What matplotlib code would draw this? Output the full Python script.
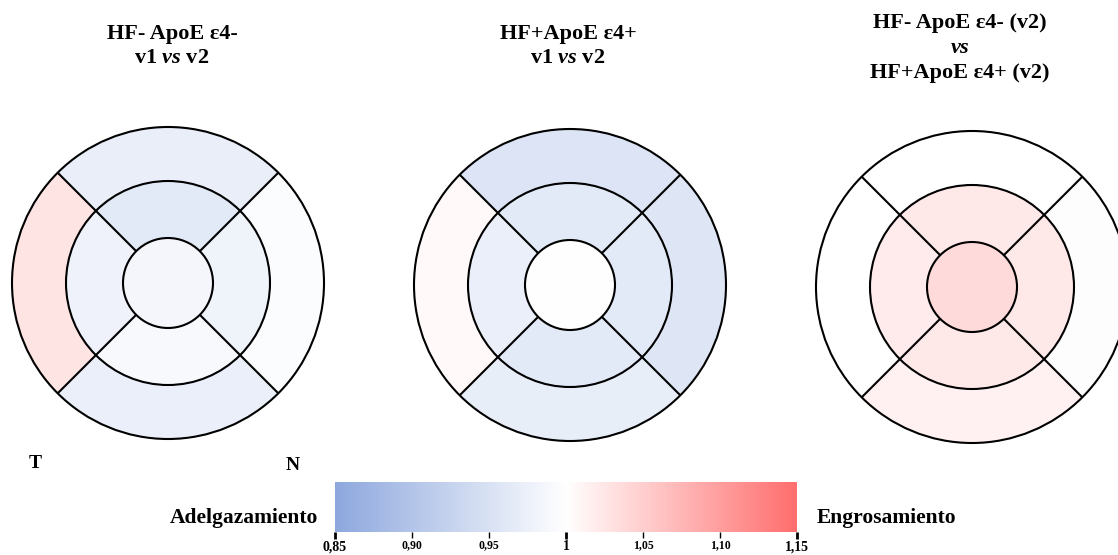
import numpy as np
import matplotlib
matplotlib.use("Agg")
import matplotlib.pyplot as plt
from matplotlib.patches import Wedge, Circle
from matplotlib.colors import LinearSegmentedColormap, Normalize

plt.rcParams['font.family'] = ['Liberation Serif', 'DejaVu Serif']
plt.rcParams['font.weight'] = 'bold'
plt.rcParams['mathtext.fontset'] = 'custom'
plt.rcParams['mathtext.rm'] = 'Liberation Serif:bold'
plt.rcParams['mathtext.it'] = 'Liberation Serif:italic:bold'
plt.rcParams['mathtext.bf'] = 'Liberation Serif:bold'

# Thickness ratio per ETDRS sector: centre, inner ring (T, S, N, I), outer ring (T, S, N, I)
sectors = ["center", "inner_temporal", "inner_superior", "inner_nasal", "inner_inferior",
           "outer_temporal", "outer_superior", "outer_nasal", "outer_inferior"]
hf_neg_v1_v2 = [0.985, 0.978, 0.963, 0.980, 0.990, 1.028, 0.971, 0.995, 0.972]
hf_pos_v1_v2 = [0.998, 0.972, 0.963, 0.962, 0.962, 1.007, 0.954, 0.956, 0.970]
hf_neg_vs_pos_v2 = [1.038, 1.020, 1.024, 1.024, 1.024, 0.999, 0.999, 0.997, 1.015]

panel_titles = [
    ["HF- ApoE ε4-", "v1 $\\it{vs}$ v2"],
    ["HF+ApoE ε4+", "v1 $\\it{vs}$ v2"],
    ["HF- ApoE ε4- (v2)", "$\\it{vs}$", "HF+ApoE ε4+ (v2)"],
]
panels = [hf_neg_v1_v2, hf_pos_v1_v2, hf_neg_vs_pos_v2]

vmin, vmax = 0.85, 1.15
cb_major = [0.85, 1.0, 1.15]
cb_major_labels = ["0,85", "1", "1,15"]
cb_minor = [0.90, 0.95, 1.05, 1.10]
cb_minor_labels = ["0,90", "0,95", "1,05", "1,10"]

cmap = LinearSegmentedColormap.from_list(
    "thin_thick", [(0.0, "#8EA8DE"), (0.5, "#FFFFFF"), (1.0, "#FF6E6E")])
norm = Normalize(vmin=vmin, vmax=vmax)

W, H = 1118, 555
fig = plt.figure(figsize=(W / 100, H / 100), dpi=100)
ax = fig.add_axes([0, 0, 1, 1])
ax.set_xlim(0, W)
ax.set_ylim(0, H)
ax.set_aspect('equal')
ax.axis('off')

centers = [(168, H - 283), (570, H - 285), (972, H - 287)]
r_center, r_inner, r_outer = 45, 102, 156
lw = 1.5

# angular spans for temporal (left), superior, nasal (right), inferior quadrants
quad_angles = [(135, 225), (45, 135), (-45, 45), (225, 315)]

for (cx, cy), vals in zip(centers, panels):
    inner_vals = vals[1:5]
    outer_vals = vals[5:9]
    for (a0, a1), v in zip(quad_angles, outer_vals):
        ax.add_patch(Wedge((cx, cy), r_outer, a0, a1, width=r_outer - r_inner,
                           facecolor=cmap(norm(v)), edgecolor='none'))
    for (a0, a1), v in zip(quad_angles, inner_vals):
        ax.add_patch(Wedge((cx, cy), r_inner, a0, a1, width=r_inner - r_center,
                           facecolor=cmap(norm(v)), edgecolor='none'))
    ax.add_patch(Circle((cx, cy), r_center, facecolor=cmap(norm(vals[0])),
                        edgecolor='black', lw=lw))
    for r in (r_inner, r_outer):
        ax.add_patch(Circle((cx, cy), r, facecolor='none', edgecolor='black', lw=lw))
    for ang in (45, 135, 225, 315):
        t = np.deg2rad(ang)
        ax.plot([cx + r_center * np.cos(t), cx + r_outer * np.cos(t)],
                [cy + r_center * np.sin(t), cy + r_outer * np.sin(t)],
                color='black', lw=lw, solid_capstyle='butt')

# panel titles
title_x = [172, 568, 960]
for tx, lines in zip(title_x, panel_titles):
    ys = [34, 58] if len(lines) == 2 else [23, 48, 73]
    for ty, line in zip(ys, lines):
        fig.text(tx / W, 1 - ty / H, line, ha='center', va='center',
                 fontsize=16, fontweight='bold')

# orientation markers
fig.text(35 / W, 1 - 463 / H, "T", ha='center', va='center', fontsize=14, fontweight='bold')
fig.text(293 / W, 1 - 465 / H, "N", ha='center', va='center', fontsize=14, fontweight='bold')

# colour bar
cax = fig.add_axes([335 / W, 1 - 532 / H, (797 - 335) / W, (532 - 482) / H])
grad = np.linspace(vmin, vmax, 512).reshape(1, -1)
cax.imshow(grad, aspect='auto', cmap=cmap, norm=norm,
           extent=[vmin, vmax, 0, 1])
cax.set_xlim(vmin, vmax)
cax.set_yticks([])
for s in cax.spines.values():
    s.set_visible(False)
cax.set_xticks(cb_major)
cax.set_xticklabels(cb_major_labels, fontsize=10, fontweight='bold')
cax.set_xticks(cb_minor, minor=True)
cax.set_xticklabels(cb_minor_labels, minor=True, fontsize=8.5, fontweight='bold')
cax.tick_params(axis='x', which='major', length=5, width=2, pad=1, colors='black')
cax.tick_params(axis='x', which='minor', length=4, width=1, pad=1, colors='black')

fig.text(318 / W, 1 - 518 / H, "Adelgazamiento", ha='right', va='center',
         fontsize=15.5, fontweight='bold')
fig.text(817 / W, 1 - 518 / H, "Engrosamiento", ha='left', va='center',
         fontsize=15.5, fontweight='bold')

fig.savefig("out.png", dpi=100, facecolor='white')
